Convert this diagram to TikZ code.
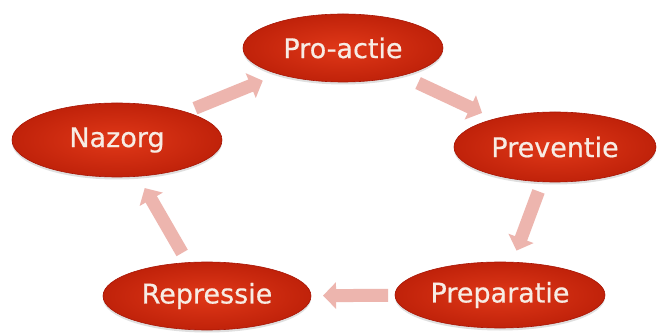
\documentclass[tikz,border=0pt]{standalone}
\usepackage{fontspec}
\setmainfont{DejaVu Sans}
\newfontfamily\ovalfont{DejaVu Sans}[FakeBold=0.6]
\usetikzlibrary{shapes.geometric,arrows.meta,calc,shadows}
\definecolor{redin}{HTML}{E03818}
\definecolor{redout}{HTML}{C0220A}
\definecolor{redline}{HTML}{A81606}
\definecolor{txt}{HTML}{F7ECE4}
\definecolor{arr}{HTML}{EDB5AE}
\tikzset{
  oval/.style={ellipse, inner sep=0pt, draw=redline, line width=0.6pt,
    inner color=redin, outer color=redout,
    drop shadow={opacity=0.25, shadow xshift=0pt, shadow yshift=-2.5pt},
    text=txt, font=\ovalfont\fontsize{27}{30}\selectfont},
  blockarr/.style={draw=arr, line width=13pt,
    -{Triangle[width=26pt, length=13pt]}}
}
\begin{document}
\begin{tikzpicture}[x=1pt, y=-1pt]
\useasboundingbox[fill=white] (0,0) rectangle (658,336);
\node[oval, minimum width=200pt, minimum height=68pt] (proactie) at (343,48) {Pro-actie};
\node[oval, minimum width=210pt, minimum height=74pt] (nazorg) at (117,140) {Nazorg};
\node[oval, minimum width=202pt, minimum height=70pt] (preventie) at (555,147) {Preventie};
\node[oval, minimum width=210pt, minimum height=66pt] (preparatie) at (500,295) {Preparatie};
\node[oval, minimum width=208pt, minimum height=68pt] (repressie) at (207,296) {Repressie};
\draw[blockarr] ($(nazorg)!0.345!(proactie)$) -- ($(nazorg)!0.645!(proactie)$);
\draw[blockarr] ($(proactie)!0.354!(preventie)$) -- ($(proactie)!0.656!(preventie)$);
\draw[blockarr] ($(preventie)!0.30!(preparatie)$) -- ($(preventie)!0.70!(preparatie)$);
\draw[blockarr] ($(preparatie)!0.382!(repressie)$) -- ($(preparatie)!0.604!(repressie)$);
\draw[blockarr] ($(repressie)!0.276!(nazorg)$) -- ($(repressie)!0.692!(nazorg)$);
\end{tikzpicture}
\end{document}
